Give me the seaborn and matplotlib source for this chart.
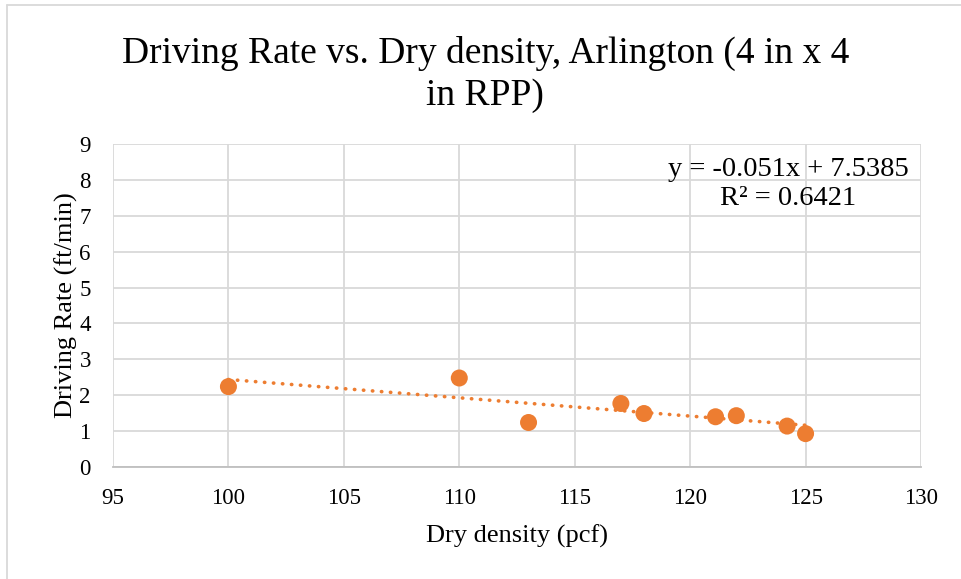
import numpy as np
import pandas as pd
import matplotlib
matplotlib.use("Agg")
import matplotlib.pyplot as plt
import seaborn as sns

# Measured dry density (pcf) and driving rate (ft/min)
dry_density = [100.0, 110.0, 113.0, 117.0, 118.0, 121.1, 122.0, 124.2, 125.0]
driving_rate = [2.24, 2.48, 1.24, 1.77, 1.49, 1.40, 1.43, 1.14, 0.93]

# Linear trendline coefficients
slope = -0.051
intercept = 7.5385
r_squared = 0.6421

x_ticks = [95, 100, 105, 110, 115, 120, 125, 130]
y_ticks = [0, 1, 2, 3, 4, 5, 6, 7, 8, 9]

orange = "#ED7D31"
grid_gray = "#D9D9D9"

sns.set_theme(style="white")
plt.rcParams["font.family"] = ["Liberation Serif", "DejaVu Serif"]
plt.rcParams["text.color"] = "black"
plt.rcParams["axes.labelcolor"] = "black"
plt.rcParams["xtick.color"] = "black"
plt.rcParams["ytick.color"] = "black"

fig = plt.figure(figsize=(9.61, 5.79), dpi=100)
ax = fig.add_axes([113 / 961, 1 - 467 / 579, (921 - 113) / 961, (467 - 144) / 579])

df = pd.DataFrame({"Dry density": dry_density, "Driving rate": driving_rate})

# Trendline over the span of the data
x_fit = np.array([min(dry_density), max(dry_density)])
ax.plot(x_fit, slope * x_fit + intercept, color=orange, lw=2.6,
        linestyle=(0, (0.1, 2.4)), dash_capstyle="round", zorder=2)

sns.scatterplot(data=df, x="Dry density", y="Driving rate", ax=ax,
                color=orange, s=150, edgecolor="none", zorder=3, legend=False)

ax.set_xlim(95, 130)
ax.set_ylim(0, 9)
ax.set_xticks(x_ticks)
ax.set_yticks(y_ticks)
ax.set_xticklabels([str(t) for t in x_ticks], fontsize=16.5)
ax.set_yticklabels([str(t) for t in y_ticks], fontsize=16.5)
ax.tick_params(axis="x", length=0, pad=15)
ax.tick_params(axis="y", length=0, pad=16)
ax.grid(True, color=grid_gray, lw=1.3)
ax.set_axisbelow(True)
for side in ["top", "right", "left"]:
    ax.spines[side].set_visible(False)
ax.spines["bottom"].set_color("#BFBFBF")
ax.spines["bottom"].set_linewidth(1.3)

ax.set_xlabel("Dry density (pcf)", fontsize=19, labelpad=11)
ax.set_ylabel("Driving Rate (ft/min)", fontsize=19, labelpad=1)

ax.text(788 / 961, 1 - 184 / 579,
        f"y = {slope}x + {intercept}\nR² = {r_squared}",
        transform=fig.transFigure, ha="center", va="center",
        fontsize=20.5, linespacing=1.25)

fig.text(0.505, 1 - 74 / 579,
         "Driving Rate vs. Dry density, Arlington (4 in x 4\nin RPP)",
         ha="center", va="center", fontsize=27, linespacing=1.28)

# Chart-area frame
fig.add_artist(plt.Line2D([7 / 961, 1.0], [1 - 5 / 579, 1 - 5 / 579],
                          transform=fig.transFigure, color="#D9D9D9", lw=1.3))
fig.add_artist(plt.Line2D([7 / 961, 7 / 961], [0.0, 1 - 5 / 579],
                          transform=fig.transFigure, color="#D9D9D9", lw=1.3))

fig.savefig("out.png", dpi=100, facecolor="white")
